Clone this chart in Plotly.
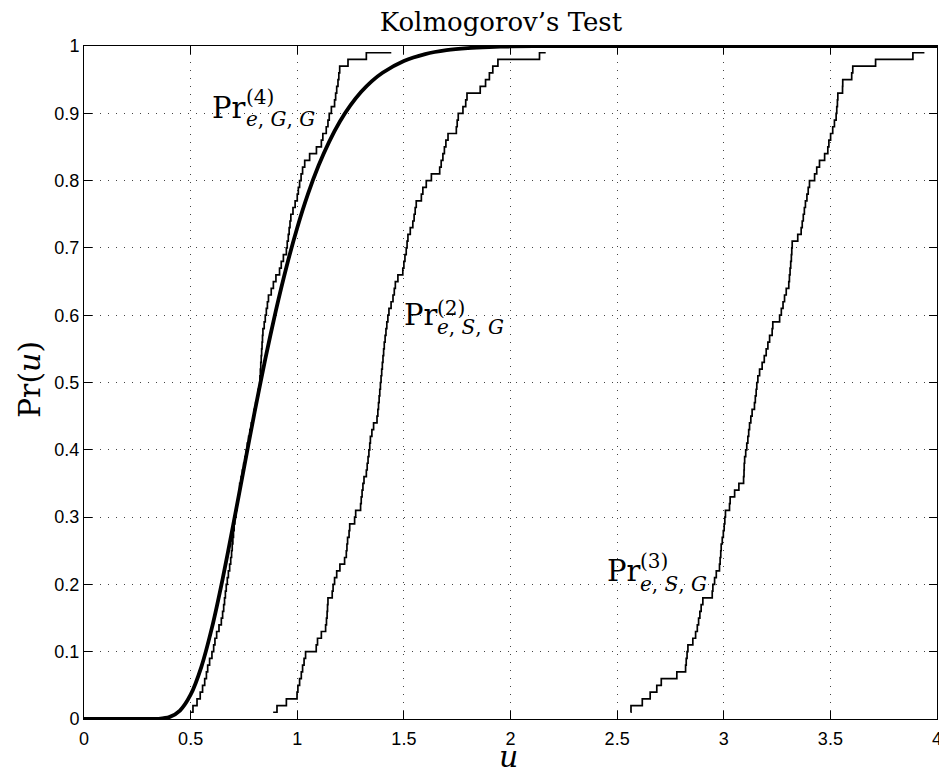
import plotly.graph_objects as go

# ---------------- data ----------------
PROB_LEVELS = [
    0.01, 0.02, 0.03, 0.04, 0.05, 0.06, 0.07, 0.08, 0.09, 0.10,
    0.11, 0.12, 0.13, 0.14, 0.15, 0.16, 0.17, 0.18, 0.19, 0.20,
    0.21, 0.22, 0.23, 0.24, 0.25, 0.26, 0.27, 0.28, 0.29, 0.30,
    0.31, 0.32, 0.33, 0.34, 0.35, 0.36, 0.37, 0.38, 0.39, 0.40,
    0.41, 0.42, 0.43, 0.44, 0.45, 0.46, 0.47, 0.48, 0.49, 0.50,
    0.51, 0.52, 0.53, 0.54, 0.55, 0.56, 0.57, 0.58, 0.59, 0.60,
    0.61, 0.62, 0.63, 0.64, 0.65, 0.66, 0.67, 0.68, 0.69, 0.70,
    0.71, 0.72, 0.73, 0.74, 0.75, 0.76, 0.77, 0.78, 0.79, 0.80,
    0.81, 0.82, 0.83, 0.84, 0.85, 0.86, 0.87, 0.88, 0.89, 0.90,
    0.91, 0.92, 0.93, 0.94, 0.95, 0.96, 0.97, 0.98, 0.99, 0.99,
]

# empirical distribution Pr^(4)_{e,G,G}: x at which each level begins (+ end of last step)
PR4_X = [
    0.500, 0.511, 0.530, 0.545, 0.556, 0.566, 0.574, 0.580, 0.589, 0.600,
    0.608, 0.614, 0.622, 0.633, 0.644, 0.650, 0.655, 0.659, 0.663, 0.667,
    0.672, 0.677, 0.683, 0.688, 0.692, 0.695, 0.698, 0.701, 0.704, 0.707,
    0.712, 0.717, 0.722, 0.727, 0.730, 0.737, 0.743, 0.749, 0.755, 0.761,
    0.766, 0.772, 0.778, 0.785, 0.792, 0.798, 0.805, 0.811, 0.817, 0.824,
    0.825, 0.827, 0.829, 0.831, 0.833, 0.835, 0.837, 0.839, 0.845, 0.850,
    0.855, 0.860, 0.865, 0.878, 0.888, 0.900, 0.917, 0.925, 0.935, 0.949,
    0.953, 0.958, 0.962, 0.966, 0.970, 0.980, 0.990, 1.000, 1.005, 1.011,
    1.018, 1.025, 1.035, 1.058, 1.090, 1.113, 1.120, 1.136, 1.144, 1.150,
    1.160, 1.175, 1.180, 1.185, 1.191, 1.195, 1.199, 1.238, 1.324, 1.441,
]

# empirical distribution Pr^(2)_{e,S,G}
PR2_X = [
    0.887, 0.905, 0.949, 0.999, 1.003, 1.011, 1.019, 1.025, 1.032, 1.039,
    1.089, 1.095, 1.113, 1.133, 1.137, 1.140, 1.142, 1.144, 1.164, 1.168,
    1.175, 1.185, 1.200, 1.222, 1.230, 1.233, 1.236, 1.243, 1.246, 1.269,
    1.274, 1.297, 1.300, 1.304, 1.308, 1.313, 1.324, 1.328, 1.332, 1.336,
    1.340, 1.343, 1.350, 1.358, 1.374, 1.378, 1.381, 1.384, 1.387, 1.390,
    1.393, 1.396, 1.399, 1.402, 1.405, 1.408, 1.412, 1.416, 1.420, 1.425,
    1.430, 1.440, 1.449, 1.455, 1.460, 1.472, 1.495, 1.500, 1.505, 1.511,
    1.515, 1.519, 1.530, 1.542, 1.548, 1.553, 1.558, 1.582, 1.589, 1.605,
    1.629, 1.668, 1.675, 1.683, 1.690, 1.697, 1.707, 1.746, 1.750, 1.755,
    1.777, 1.790, 1.796, 1.858, 1.883, 1.901, 1.917, 1.941, 2.136, 2.165,
]

# empirical distribution Pr^(3)_{e,S,G}
PR3_X = [
    2.563, 2.565, 2.618, 2.655, 2.686, 2.707, 2.780, 2.821, 2.824, 2.828,
    2.832, 2.855, 2.868, 2.876, 2.882, 2.888, 2.894, 2.902, 2.946, 2.949,
    2.957, 2.965, 2.980, 2.983, 2.986, 2.988, 2.993, 2.998, 3.002, 3.005,
    3.008, 3.027, 3.030, 3.051, 3.071, 3.093, 3.095, 3.096, 3.098, 3.103,
    3.108, 3.113, 3.117, 3.121, 3.127, 3.133, 3.144, 3.148, 3.152, 3.155,
    3.160, 3.168, 3.180, 3.190, 3.199, 3.207, 3.215, 3.227, 3.230, 3.262,
    3.270, 3.278, 3.285, 3.293, 3.305, 3.308, 3.311, 3.314, 3.317, 3.319,
    3.321, 3.347, 3.363, 3.368, 3.373, 3.378, 3.383, 3.390, 3.396, 3.402,
    3.426, 3.436, 3.449, 3.473, 3.488, 3.493, 3.501, 3.511, 3.519, 3.527,
    3.530, 3.533, 3.535, 3.557, 3.558, 3.600, 3.605, 3.712, 3.887, 3.941,
]

# theoretical (Kolmogorov) distribution, thick curve
THEORY_U = [0.0, 0.1, 0.2, 0.25, 0.3, 0.35, 0.4, 0.45, 0.5, 0.55, 0.6, 0.65, 0.7,
            0.75, 0.8, 0.85, 0.9, 0.95, 1.0, 1.05, 1.1, 1.15, 1.2, 1.25, 1.3,
            1.35, 1.4, 1.5, 1.6, 1.7, 1.8, 1.9, 2.0, 2.2, 2.5, 3.0, 3.5, 4.0]
THEORY_P = [0.0, 0.0, 0.0, 0.0, 0.00001, 0.0003, 0.0028, 0.0126, 0.0361, 0.0772,
            0.1357, 0.2080, 0.2888, 0.3728, 0.4559, 0.5347, 0.6073, 0.6725,
            0.7300, 0.7798, 0.8223, 0.8580, 0.8878, 0.9121, 0.9319, 0.9478,
            0.9603, 0.9778, 0.9880, 0.9938, 0.9969, 0.9985, 0.9993, 0.9999,
            1.0, 1.0, 1.0, 1.0]

X_TICKS = [0, 0.5, 1, 1.5, 2, 2.5, 3, 3.5, 4]
X_TICK_TEXT = ["0", "0.5", "1", "1.5", "2", "2.5", "3", "3.5", "4"]
Y_TICKS = [0, 0.1, 0.2, 0.3, 0.4, 0.5, 0.6, 0.7, 0.8, 0.9, 1]
Y_TICK_TEXT = ["0", "0.1", "0.2", "0.3", "0.4", "0.5", "0.6", "0.7", "0.8", "0.9", "1"]

# ---------------- figure ----------------
SERIF = "DejaVu Serif"
SANS = "Liberation Sans, Arial, sans-serif"

fig = go.Figure()

for xs in (PR4_X, PR2_X, PR3_X):
    fig.add_trace(go.Scatter(
        x=xs, y=PROB_LEVELS, mode="lines", line_shape="hv",
        line=dict(color="black", width=1.7), showlegend=False, hoverinfo="skip",
        cliponaxis=False,
    ))

fig.add_trace(go.Scatter(
    x=THEORY_U, y=THEORY_P, mode="lines", line_shape="spline",
    line=dict(color="black", width=3.8, smoothing=0.7), showlegend=False,
    hoverinfo="skip", cliponaxis=False,
))

axis_common = dict(
    showline=True, linecolor="black", linewidth=1, mirror="allticks",
    ticks="inside", ticklen=8, tickwidth=1, tickcolor="black",
    showgrid=True, gridcolor="#444444", gridwidth=1, griddash="1px,7px",
    zeroline=False, automargin=False, ticklabeloverflow="allow",
    tickfont=dict(family=SANS, size=18, color="black"),
)

fig.update_xaxes(range=[0, 4], tickvals=X_TICKS, ticktext=X_TICK_TEXT,
                 ticklabelstandoff=3, **axis_common)
fig.update_yaxes(range=[0, 1], tickvals=Y_TICKS, ticktext=Y_TICK_TEXT, **axis_common)

ann = []

def add_label(x_pr, x_idx, y_pr, y_sup, y_sub, sup, sub):
    ann.append(dict(x=x_pr, y=y_pr, xref="x", yref="y", text="Pr", showarrow=False,
                    xanchor="left", yanchor="middle",
                    font=dict(family=SERIF, size=29, color="black")))
    ann.append(dict(x=x_idx, y=y_sup, xref="x", yref="y", text=sup, showarrow=False,
                    xanchor="left", yanchor="middle",
                    font=dict(family=SERIF, size=20, color="black")))
    ann.append(dict(x=x_idx, y=y_sub, xref="x", yref="y", text=sub, showarrow=False,
                    xanchor="left", yanchor="middle",
                    font=dict(family=SERIF, size=20, color="black")))

add_label(0.589, 0.749, 0.908, 0.924, 0.8915, "(4)", "<i>e</i>, <i>G</i>, <i>G</i>")
add_label(1.492, 1.645, 0.601, 0.610, 0.582, "(2)", "<i>e</i>, <i>S</i>, <i>G</i>")
add_label(2.441, 2.598, 0.2195, 0.2355, 0.2006, "(3)", "<i>e</i>, <i>S</i>, <i>G</i>")

# axis labels
ann.append(dict(x=-0.0645, y=0.505, xref="paper", yref="paper", text="Pr(<i>u</i>)",
                textangle=-90, showarrow=False, xanchor="center", yanchor="middle",
                font=dict(family=SERIF, size=30, color="black")))
ann.append(dict(x=0.498, y=-0.056, xref="paper", yref="paper", text="<i>u</i>",
                showarrow=False, xanchor="center", yanchor="middle",
                font=dict(family=SERIF, size=30, color="black")))

fig.update_layout(
    width=939, height=770,
    margin=dict(l=84, r=2, t=46, b=51, autoexpand=False),
    paper_bgcolor="white", plot_bgcolor="white",
    title=dict(text="Kolmogorov\u2019s Test", x=0.5335, y=0.971, xanchor="center",
               yanchor="middle", automargin=False,
               font=dict(family=SERIF, size=26, color="black")),
    annotations=ann,
)

fig.write_html(
    "out.html",
    config={"displayModeBar": False},
    post_script="document.body.style.margin='0';document.body.style.overflow='hidden';",
)
